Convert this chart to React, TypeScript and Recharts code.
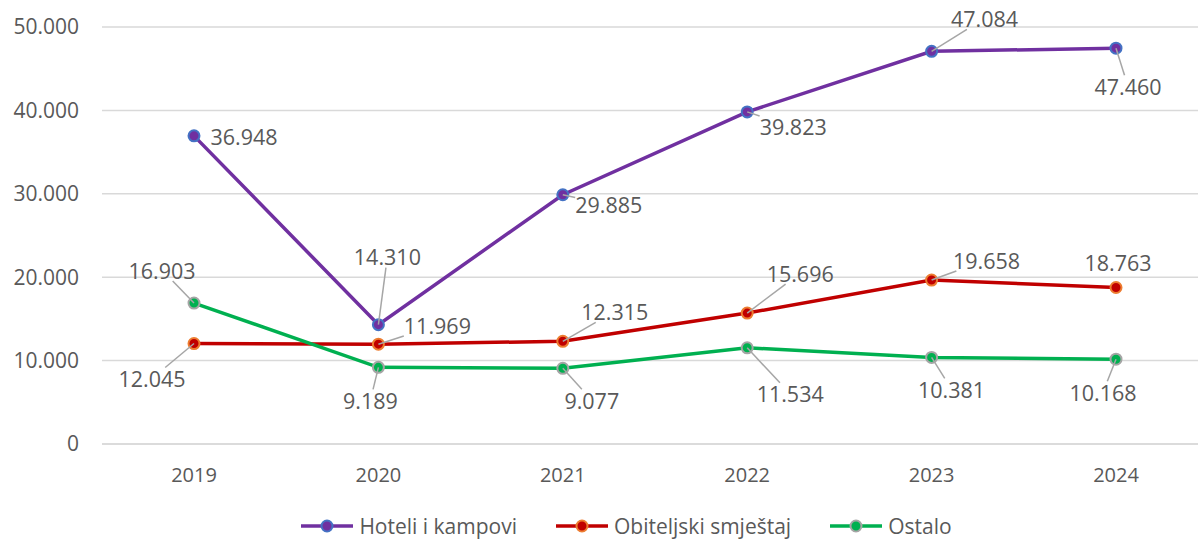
import React from 'react';
import { LineChart, Line, XAxis, YAxis, CartesianGrid, LabelList } from 'recharts';

const years = ['2019', '2020', '2021', '2022', '2023', '2024'];
const hoteli = [36948, 14310, 29885, 39823, 47084, 47460];
const obiteljski = [12045, 11969, 12315, 15696, 19658, 18763];
const ostalo = [16903, 9189, 9077, 11534, 10381, 10168];
const yTicks = [0, 10000, 20000, 30000, 40000, 50000];

const data = years.map((year, i) => ({
  year,
  hoteli: hoteli[i],
  obiteljski: obiteljski[i],
  ostalo: ostalo[i],
}));

// label placement relative to each point: [dx, dy, leader line?]
const hoteliLabels: [number, number, boolean][] = [
  [50, 1, false], [9, -68, true], [46, 10, true], [46, 15, true], [53, -33, true], [12, 38, true],
];
const obiteljskiLabels: [number, number, boolean][] = [
  [-42, 35, true], [59, -19, true], [52, -30, true], [53, -40, true], [55, -20, true], [2, -25, false],
];
const ostaloLabels: [number, number, boolean][] = [
  [-32, -33, true], [-8, 33, true], [29, 32, true], [43, 46, true], [20, 32, true], [-13, 33, true],
];

const FONT = '"Open Sans", "Noto Sans", sans-serif';
const TEXT = '#595959';
const LEADER = '#A6A6A6';

const fmt = (v: number) => String(v).replace(/\B(?=(\d{3})+(?!\d))/g, '.');

const makeLabel = (offsets: [number, number, boolean][]) => (props: any) => {
  const { x, y, value, index } = props;
  const [dx, dy, leader] = offsets[index];
  const cx = x + dx;
  const cy = y + dy;
  const text = fmt(value);
  const hw = text.length * 5.6;
  const hh = 11;
  let line = null;
  if (leader) {
    const vx = x - cx;
    const vy = y - cy;
    const s = Math.min(vx === 0 ? Infinity : hw / Math.abs(vx), vy === 0 ? Infinity : hh / Math.abs(vy));
    if (s < 1) {
      const ex = cx + s * vx;
      const ey = cy + s * vy;
      line = <line x1={x} y1={y} x2={ex} y2={ey} stroke={LEADER} strokeWidth={1.5} />;
    }
  }
  return (
    <g>
      {line}
      <text
        x={cx}
        y={cy}
        textAnchor="middle"
        dominantBaseline="central"
        style={{ fontSize: 21.5, fill: TEXT, fontFamily: FONT }}
      >
        {text}
      </text>
    </g>
  );
};

const series = [
  { key: 'hoteli', name: 'Hoteli i kampovi', color: '#7030A0', ring: '#4472C4', labels: hoteliLabels },
  { key: 'obiteljski', name: 'Obiteljski smještaj', color: '#C00000', ring: '#ED7D31', labels: obiteljskiLabels },
  { key: 'ostalo', name: 'Ostalo', color: '#00B050', ring: '#A5A5A5', labels: ostaloLabels },
];

const LegendIcon = ({ color, ring }: { color: string; ring: string }) => (
  <svg width={54} height={16} style={{ marginRight: 5 }}>
    <line x1={1} y1={8} x2={53} y2={8} stroke={color} strokeWidth={3.5} />
    <circle cx={27} cy={8} r={5.5} fill={color} stroke={ring} strokeWidth={2} />
  </svg>
);

export default function App() {
  return (
    <div style={{ position: 'absolute', left: 0, top: 0, width: 1198, height: 539, overflow: 'hidden', background: '#fff' }}>
      <LineChart width={1216} height={539} data={data} margin={{ top: 27, right: 8, left: 0, bottom: 50 }}>
        <CartesianGrid vertical={false} stroke="#D9D9D9" strokeWidth={1.5} />
        <XAxis
          dataKey="year"
          padding={{ left: 92, right: 92 }}
          axisLine={{ stroke: '#D9D9D9', strokeWidth: 1.5 }}
          tickLine={false}
          tickSize={0}
          tickMargin={24}
          height={45}
          tick={{ fontSize: 20, fill: TEXT, fontFamily: FONT }}
        />
        <YAxis
          domain={[0, 50000]}
          ticks={yTicks}
          width={102}
          axisLine={false}
          tickLine={false}
          tickSize={0}
          tickMargin={23}
          tickFormatter={fmt}
          tick={{ fontSize: 21, fill: TEXT, fontFamily: FONT }}
        />
        {series.map((s) => (
          <Line
            key={s.key}
            dataKey={s.key}
            name={s.name}
            stroke={s.color}
            strokeWidth={3.5}
            isAnimationActive={false}
            dot={{ r: 5.5, fill: s.color, stroke: s.ring, strokeWidth: 2 }}
            activeDot={false}
          >
            <LabelList dataKey={s.key} content={makeLabel(s.labels)} />
          </Line>
        ))}
      </LineChart>
      <div
        style={{
          position: 'absolute',
          top: 514,
          left: 0,
          width: 1252,
          display: 'flex',
          justifyContent: 'center',
          alignItems: 'center',
          gap: 38,
          fontFamily: FONT,
          fontSize: 21,
          color: TEXT,
          lineHeight: '24px',
        }}
      >
        {series.map((s) => (
          <div key={s.key} style={{ display: 'flex', alignItems: 'center' }}>
            <LegendIcon color={s.color} ring={s.ring} />
            <span>{s.name}</span>
          </div>
        ))}
      </div>
    </div>
  );
}
